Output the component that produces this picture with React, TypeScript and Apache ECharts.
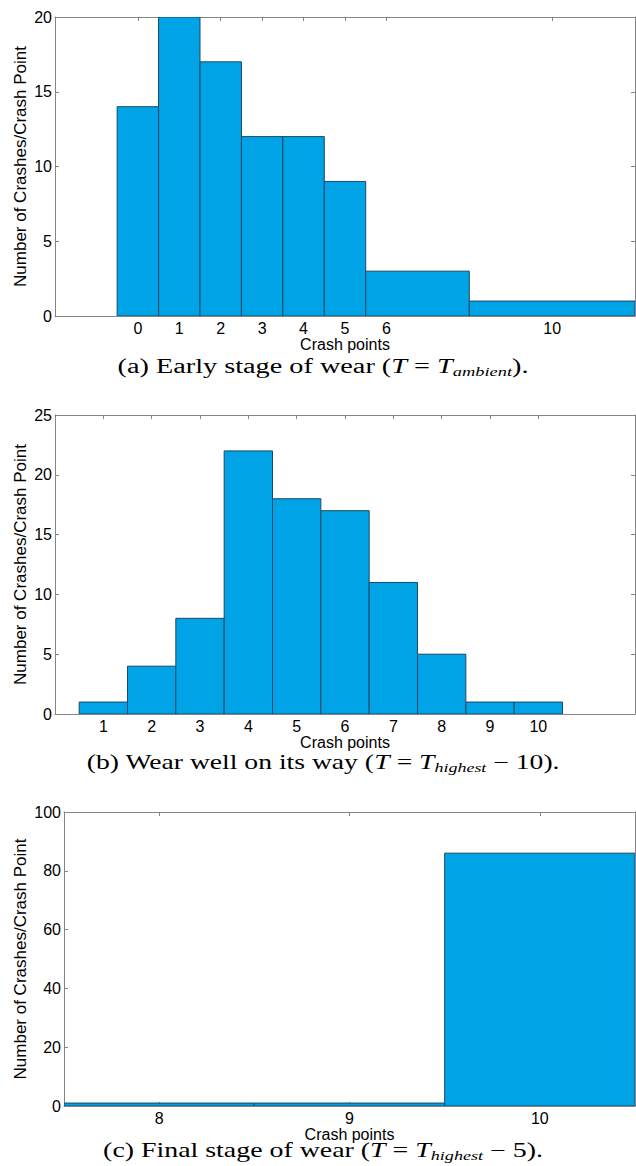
import React, { useEffect, useRef } from 'react';
import * as echarts from 'echarts';

// ---------- data ----------
const CENTERS_A = [0, 1, 2, 3, 4, 5, 6, 10];
const COUNTS_A = [14, 20, 17, 12, 12, 9, 3, 1];
const CENTERS_B = [1, 2, 3, 4, 5, 6, 7, 8, 9, 10];
const COUNTS_B = [1, 4, 8, 22, 18, 17, 11, 5, 1, 1];
const CENTERS_C = [8, 9, 10];
const COUNTS_C = [1, 1, 86];

const X_RANGE_A = [-2, 12];
const X_RANGE_B = [0, 12];
const X_RANGE_C = [7.5, 10.5];
const Y_TICKS_A = [0, 5, 10, 15, 20];
const Y_TICKS_B = [0, 5, 10, 15, 20, 25];
const Y_TICKS_C = [0, 20, 40, 60, 80, 100];

const X_NAME = 'Crash points';
const Y_NAME = 'Number of Crashes/Crash Point';

const CAPTION_A: [string, string][] = [['n', '(a) Early stage of wear ('], ['i', 'T'], ['n', ' = '], ['i', 'T'], ['s', 'ambient'], ['n', ').']];
const CAPTION_B: [string, string][] = [['n', '(b) Wear well on its way ('], ['i', 'T'], ['n', ' = '], ['i', 'T'], ['s', 'highest'], ['n', ' \u2212 10).']];
const CAPTION_C: [string, string][] = [['n', '(c) Final stage of wear ('], ['i', 'T'], ['n', ' = '], ['i', 'T'], ['s', 'highest'], ['n', ' \u2212 5).']];

// ---------- layout / style ----------
const FONT_SANS = '"Liberation Sans", Arial, Helvetica, sans-serif';
const FONT_SERIF = '"Liberation Serif", "Times New Roman", serif';
const BAR_FILL = '#00A3E6';
const BAR_EDGE = '#1b4866';
const BOX = '#858585';
const CAP_SIZE = 20;
const SUB_SIZE = 13;
const YNAME_EDGE_X = 29;

const PANELS = [
  { centers: CENTERS_A, counts: COUNTS_A, xr: X_RANGE_A, yt: Y_TICKS_A, caption: CAPTION_A,
    left: 55, top: 17, width: 580, height: 299, capY: 366, capW: 411 },
  { centers: CENTERS_B, counts: COUNTS_B, xr: X_RANGE_B, yt: Y_TICKS_B, caption: CAPTION_B,
    left: 55, top: 415, width: 580, height: 299, capY: 762, capW: 473 },
  { centers: CENTERS_C, counts: COUNTS_C, xr: X_RANGE_C, yt: Y_TICKS_C, caption: CAPTION_C,
    left: 64, top: 812, width: 571, height: 294, capY: 1150, capW: 440 },
];

function binEdges(c: number[]): number[] {
  const n = c.length;
  const e = [c[0] - (c[1] - c[0]) / 2];
  for (let i = 0; i < n - 1; i++) e.push((c[i] + c[i + 1]) / 2);
  e.push(c[n - 1] + (c[n - 1] - c[n - 2]) / 2);
  return e;
}

function segFont(k: string): string {
  if (k === 'n') return `${CAP_SIZE}px ${FONT_SERIF}`;
  if (k === 'i') return `italic ${CAP_SIZE}px ${FONT_SERIF}`;
  return `italic ${SUB_SIZE}px ${FONT_SERIF}`;
}

function measureCaption(segs: [string, string][]): number {
  const ctx = document.createElement('canvas').getContext('2d');
  if (!ctx) return 1;
  let w = 0;
  for (const [k, t] of segs) {
    ctx.font = segFont(k);
    w += ctx.measureText(t).width;
  }
  return w;
}

const RICH = {
  n: { fontFamily: FONT_SERIF, fontSize: CAP_SIZE, fill: '#000' },
  i: { fontFamily: FONT_SERIF, fontSize: CAP_SIZE, fontStyle: 'italic', fill: '#000' },
  s: { fontFamily: FONT_SERIF, fontSize: SUB_SIZE, fontStyle: 'italic', fill: '#000', padding: [11, 0, 0, 0] },
};

function renderBar(params: any, api: any) {
  const x0 = api.value(0);
  const x1 = api.value(1);
  const y = api.value(2);
  const p0 = api.coord([x0, y]);
  const p1 = api.coord([x1, 0]);
  return {
    type: 'rect',
    shape: { x: p0[0], y: p0[1], width: p1[0] - p0[0], height: p1[1] - p0[1] },
    style: { fill: BAR_FILL, stroke: BAR_EDGE, lineWidth: 1 },
  };
}

function buildOption() {
  const grid: any[] = [];
  const xAxis: any[] = [];
  const yAxis: any[] = [];
  const series: any[] = [];
  const graphic: any[] = [];

  PANELS.forEach((p, i) => {
    grid.push({ left: p.left, top: p.top, width: p.width, height: p.height, containLabel: false });
    const tickCommon = { inside: true, length: 4, lineStyle: { color: BOX, width: 1 } };
    const lineCommon = { show: true, onZero: false, lineStyle: { color: BOX, width: 1 } };
    xAxis.push({
      type: 'value', gridIndex: i, position: 'bottom', min: p.xr[0], max: p.xr[1],
      axisLine: lineCommon,
      axisTick: { ...tickCommon, customValues: p.centers },
      axisLabel: { customValues: p.centers, margin: 4, fontSize: 16, color: '#000', fontFamily: FONT_SANS },
      splitLine: { show: false },
      name: X_NAME, nameLocation: 'middle', nameGap: 20, nameMoveOverlap: false,
      nameTextStyle: { fontSize: 16, color: '#000', fontFamily: FONT_SANS, verticalAlign: 'top' },
    });
    xAxis.push({
      type: 'value', gridIndex: i, position: 'top', min: p.xr[0], max: p.xr[1],
      axisLine: lineCommon,
      axisTick: { ...tickCommon, customValues: p.centers },
      axisLabel: { show: false, customValues: p.centers },
      splitLine: { show: false },
    });
    const yt = p.yt;
    const yCommon = {
      type: 'value', gridIndex: i, min: yt[0], max: yt[yt.length - 1], interval: yt[1] - yt[0],
      axisLine: lineCommon, axisTick: tickCommon, splitLine: { show: false },
    };
    yAxis.push({
      ...yCommon, position: 'left',
      axisLabel: { margin: 3, fontSize: 16, color: '#000', fontFamily: FONT_SANS },
      name: Y_NAME, nameLocation: 'middle', nameGap: p.left - YNAME_EDGE_X, nameRotate: 90, nameMoveOverlap: false,
      nameTextStyle: { fontSize: 17, color: '#000', fontFamily: FONT_SANS },
    });
    yAxis.push({ ...yCommon, position: 'right', axisLabel: { show: false } });

    const edges = binEdges(p.centers);
    const data = p.counts.map((v, k) => [edges[k], edges[k + 1], v]);
    series.push({
      type: 'custom', xAxisIndex: 2 * i, yAxisIndex: 2 * i, data,
      encode: { x: [0, 1], y: 2 }, renderItem: renderBar, clip: true, z: 2,
    });

    const natural = measureCaption(p.caption);
    const scaleX = natural > 0 ? p.capW / natural : 1;
    graphic.push({
      type: 'text', x: 323, y: p.capY, scaleX, scaleY: 1,
      style: {
        text: p.caption.map(([k, t]) => `{${k}|${t}}`).join(''),
        rich: RICH, align: 'center', verticalAlign: 'middle',
      },
    });
  });

  return { animation: false, backgroundColor: '#ffffff', grid, xAxis, yAxis, series, graphic };
}

export default function App() {
  const ref = useRef<HTMLDivElement>(null);
  useEffect(() => {
    if (!ref.current) return;
    const chart = echarts.init(ref.current, undefined, { renderer: 'svg' });
    chart.setOption(buildOption() as any);
    return () => chart.dispose();
  }, []);
  return (
    <div
      ref={ref}
      style={{ position: 'absolute', left: 0, top: 0, width: 636, height: 1166, background: '#fff' }}
    />
  );
}
